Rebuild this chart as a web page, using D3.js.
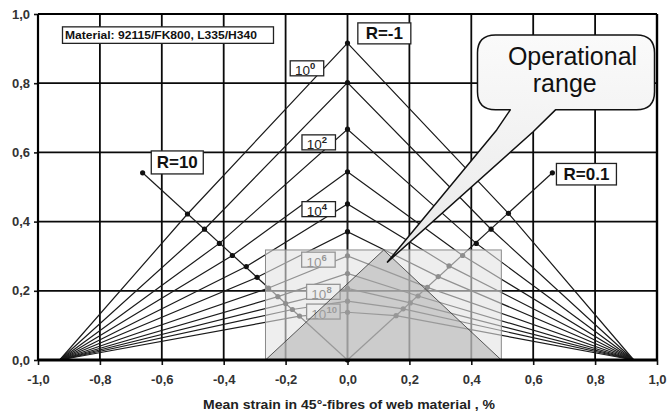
<!DOCTYPE html>
<html>
<head>
<meta charset="utf-8">
<script src="https://cdn.jsdelivr.net/npm/d3@7"></script>
<style>
  html, body { margin: 0; padding: 0; background: #fff; }
  svg { display: block; }
  text { font-family: "Liberation Sans", Arial, sans-serif; }
</style>
</head>
<body>
<svg id="chart" width="667" height="416"></svg>
<script>
// Constant life diagram: strain amplitude vs. mean strain for N = 10^0 ... 10^10 cycles
const cycleExponents = [0, 1, 2, 3, 4, 5, 6, 7, 8, 9, 10];
// amplitude at R = -1 (zero mean strain)
const apexAmplitude = [0.916, 0.802, 0.667, 0.544, 0.451, 0.371, 0.301, 0.250, 0.207, 0.170, 0.138];
// crossing with the R = 10 ray (compressive side)
const r10Mean      = [-0.517, -0.462, -0.414, -0.372, -0.327, -0.292, -0.255, -0.225, -0.200, -0.178, -0.155];
const r10Amplitude = [0.422, 0.378, 0.337, 0.302, 0.270, 0.239, 0.208, 0.183, 0.163, 0.146, 0.127];
// crossing with the R = 0.1 ray (tensile side)
const r01Mean      = [0.520, 0.464, 0.416, 0.372, 0.328, 0.293, 0.258, 0.228, 0.203, 0.180, 0.157];
const r01Amplitude = [0.424, 0.378, 0.337, 0.302, 0.272, 0.241, 0.210, 0.185, 0.165, 0.148, 0.128];
// static strength ends of every curve
const compressiveEnd = -0.93;
const tensileEnd = 0.925;
// ray end points
const rayR10 = [-0.662, 0.541];
const rayR01 = [0.662, 0.541];
const rayRm1 = [0, 0.916];
// axis ticks
const xTicks = [-1.0, -0.8, -0.6, -0.4, -0.2, 0.0, 0.2, 0.4, 0.6, 0.8, 1.0];
const xTickLabels = ["-1,0", "-0,8", "-0,6", "-0,4", "-0,2", "0,0", "0,2", "0,4", "0,6", "0,8", "1,0"];
const yTicks = [0.0, 0.2, 0.4, 0.6, 0.8, 1.0];
const yTickLabels = ["0,0", "0,2", "0,4", "0,6", "0,8", "1,0"];
// operational range window
const opMean = [-0.265, 0.497];
const opAmplitude = [0, 0.318];
const opPeak = [0.117, 0.318];

const svg = d3.select("#chart");
const x = d3.scaleLinear().domain([-1, 1]).range([38, 657]);
const y = d3.scaleLinear().domain([0, 1]).range([360, 14]);

// grid
const grid = svg.append("g");
grid.selectAll("line.v").data(xTicks).join("line")
  .attr("x1", d => x(d)).attr("x2", d => x(d))
  .attr("y1", y(0)).attr("y2", y(1))
  .attr("stroke", "#0a0a0a").attr("stroke-width", 1.8);
grid.selectAll("line.h").data(yTicks).join("line")
  .attr("x1", x(-1)).attr("x2", x(1))
  .attr("y1", d => y(d)).attr("y2", d => y(d))
  .attr("stroke", "#0a0a0a").attr("stroke-width", 1.8);

// curves
const line = d3.line().x(d => x(d[0])).y(d => y(d[1]));
const curves = cycleExponents.map((e, i) => [
  [compressiveEnd, 0],
  [r10Mean[i], r10Amplitude[i]],
  [0, apexAmplitude[i]],
  [r01Mean[i], r01Amplitude[i]],
  [tensileEnd, 0]
]);
svg.append("g").selectAll("path").data(curves).join("path")
  .attr("d", line).attr("fill", "none")
  .attr("stroke", "#1a1a1a").attr("stroke-width", 1.2);

// R rays
const rays = [[[0, 0], rayR10], [[0, 0], rayR01], [[0, 0], rayRm1]];
svg.append("g").selectAll("path").data(rays).join("path")
  .attr("d", line).attr("fill", "none")
  .attr("stroke", "#1a1a1a").attr("stroke-width", 1.2);

// markers
const dots = [];
cycleExponents.forEach((e, i) => {
  dots.push([0, apexAmplitude[i]], [r10Mean[i], r10Amplitude[i]], [r01Mean[i], r01Amplitude[i]]);
});
dots.push(rayR10, rayR01, [0, 0]);
svg.append("g").selectAll("circle").data(dots).join("circle")
  .attr("cx", d => x(d[0])).attr("cy", d => y(d[1])).attr("r", 2.6)
  .attr("fill", "#111");

// boxed labels
function boxLabel(cx, cy, w, h) {
  svg.append("rect")
    .attr("x", x(cx) - w / 2).attr("y", y(cy) - h / 2)
    .attr("width", w).attr("height", h)
    .attr("fill", "#fff").attr("stroke", "#222").attr("stroke-width", 1.3);
}

// cycle labels
const cycleLabels = [
  { exp: "0", mx: -0.131, my: 0.843 },
  { exp: "2", mx: -0.093, my: 0.629 },
  { exp: "4", mx: -0.093, my: 0.436 },
  { exp: "6", mx: -0.094, my: 0.290 },
  { exp: "8", mx: -0.078, my: 0.197 },
  { exp: "10", mx: -0.078, my: 0.140 }
];
cycleLabels.forEach(l => {
  boxLabel(l.mx, l.my, 33.5, 15);
  const t = svg.append("text")
    .attr("x", x(l.mx) - 12).attr("y", y(l.my) + 7)
    .attr("fill", "#222");
  t.append("tspan").attr("font-size", 13.5).text("10");
  t.append("tspan").attr("font-size", 9.5).attr("font-weight", "bold")
    .attr("dy", -6).text(l.exp);
});

// operational range window
svg.append("rect")
  .attr("x", x(opMean[0])).attr("y", y(opAmplitude[1]))
  .attr("width", x(opMean[1]) - x(opMean[0]))
  .attr("height", y(opAmplitude[0]) - y(opAmplitude[1]))
  .attr("fill", "#e2e2e2").attr("fill-opacity", 0.6)
  .attr("stroke", "#8a8a8a").attr("stroke-width", 1);
svg.append("path")
  .attr("d", line([[opMean[0], 0], opPeak, [opMean[1], 0]]) + "Z")
  .attr("fill", "#a2a2a2").attr("fill-opacity", 0.45)
  .attr("stroke", "#333").attr("stroke-width", 0.8);

// axes
const xAxis = d3.axisBottom(x).tickValues(xTicks)
  .tickFormat((d, i) => xTickLabels[i]).tickSize(5).tickPadding(10).tickSizeOuter(0);
const gx = svg.append("g").attr("transform", `translate(0,${y(0)})`).call(xAxis);
const yAxis = d3.axisLeft(y).tickValues(yTicks)
  .tickFormat((d, i) => yTickLabels[i]).tickSize(4).tickPadding(4).tickSizeOuter(0);
const gy = svg.append("g").attr("transform", `translate(${x(-1)},0)`).call(yAxis);
[gx, gy].forEach(g => {
  g.select(".domain").remove();
  g.selectAll(".tick line").attr("stroke", "#111").attr("stroke-width", 1.6);
  g.selectAll(".tick text").attr("font-size", 13).attr("font-weight", "bold")
    .attr("fill", "#333").attr("font-family", "Liberation Sans, Arial, sans-serif");
});

// frame
svg.append("line").attr("x1", x(-1)).attr("x2", x(1)).attr("y1", y(0)).attr("y2", y(0))
  .attr("stroke", "#000").attr("stroke-width", 3);
svg.append("line").attr("x1", x(-1)).attr("x2", x(-1)).attr("y1", y(0)).attr("y2", y(1))
  .attr("stroke", "#000").attr("stroke-width", 2.2);
svg.append("line").attr("x1", x(1)).attr("x2", x(1)).attr("y1", y(0)).attr("y2", y(1))
  .attr("stroke", "#000").attr("stroke-width", 2.4);
svg.append("line").attr("x1", x(-1)).attr("x2", x(1)).attr("y1", y(1)).attr("y2", y(1))
  .attr("stroke", "#000").attr("stroke-width", 1.8);

// material and ratio labels
boxLabel(-0.580, 0.939, 211, 16.5);
svg.append("text").attr("x", x(-0.580) - 103).attr("y", y(0.939) + 3.8)
  .attr("font-size", 10).attr("font-weight", "bold").attr("fill", "#111")
  .attr("textLength", 192).attr("lengthAdjust", "spacingAndGlyphs")
  .text("Material: 92115/FK800, L335/H340");

const ratioLabels = [
  { text: "R=-1", mx: 0.119, my: 0.944, w: 53, h: 21 },
  { text: "R=10", mx: -0.550, my: 0.571, w: 52, h: 23 },
  { text: "R=0.1", mx: 0.772, my: 0.537, w: 60, h: 21.5 }
];
ratioLabels.forEach(l => {
  boxLabel(l.mx, l.my, l.w, l.h);
  svg.append("text").attr("x", x(l.mx)).attr("y", y(l.my) + 6)
    .attr("text-anchor", "middle").attr("font-size", 17).attr("font-weight", "bold")
    .attr("fill", "#111").text(l.text);
});

// callout
const bubble = { x0: 0.42, x1: 0.992, y0: 0.723, y1: 0.939 };
const tail = { bl: [0.526, 0.723], br: [0.672, 0.723], kl: [0.482, 0.665], kr: [0.599, 0.659], tip: [0.129, 0.283] };
const r = 18;
const bx0 = x(bubble.x0), bx1 = x(bubble.x1), by0 = y(bubble.y1), by1 = y(bubble.y0);
const calloutPath = [
  `M${bx0 + r},${by0}`,
  `H${bx1 - r}`, `Q${bx1},${by0} ${bx1},${by0 + r}`,
  `V${by1 - r}`, `Q${bx1},${by1} ${bx1 - r},${by1}`,
  `H${x(tail.br[0])}`,
  `L${x(tail.kr[0])},${y(tail.kr[1])}`,
  `L${x(tail.tip[0])},${y(tail.tip[1])}`,
  `L${x(tail.kl[0])},${y(tail.kl[1])}`,
  `L${x(tail.bl[0])},${y(tail.bl[1])}`,
  `H${bx0 + r}`, `Q${bx0},${by1} ${bx0},${by1 - r}`,
  `V${by0 + r}`, `Q${bx0},${by0} ${bx0 + r},${by0}`, "Z"
].join(" ");
const defs = svg.append("defs");
const grad = defs.append("linearGradient").attr("id", "bubbleFill")
  .attr("x1", 0).attr("y1", 0).attr("x2", 0).attr("y2", 1);
grad.append("stop").attr("offset", "0%").attr("stop-color", "#fafafa");
grad.append("stop").attr("offset", "100%").attr("stop-color", "#e9e9e9");
svg.append("path").attr("d", calloutPath)
  .attr("fill", "url(#bubbleFill)").attr("stroke", "#111").attr("stroke-width", 1.5)
  .attr("stroke-linejoin", "round");
svg.append("text").attr("x", x(0.727)).attr("y", y(0.852))
  .attr("text-anchor", "middle").attr("font-size", 25).attr("fill", "#111")
  .text("Operational");
svg.append("text").attr("x", x(0.702)).attr("y", y(0.776))
  .attr("text-anchor", "middle").attr("font-size", 25).attr("fill", "#111")
  .text("range");

// axis title
svg.append("text").attr("x", 349).attr("y", 409)
  .attr("text-anchor", "middle").attr("font-size", 12).attr("font-weight", "bold")
  .attr("fill", "#222").attr("textLength", 292).attr("lengthAdjust", "spacingAndGlyphs")
  .text("Mean strain in 45°-fibres of web material , %");
</script>
</body>
</html>
